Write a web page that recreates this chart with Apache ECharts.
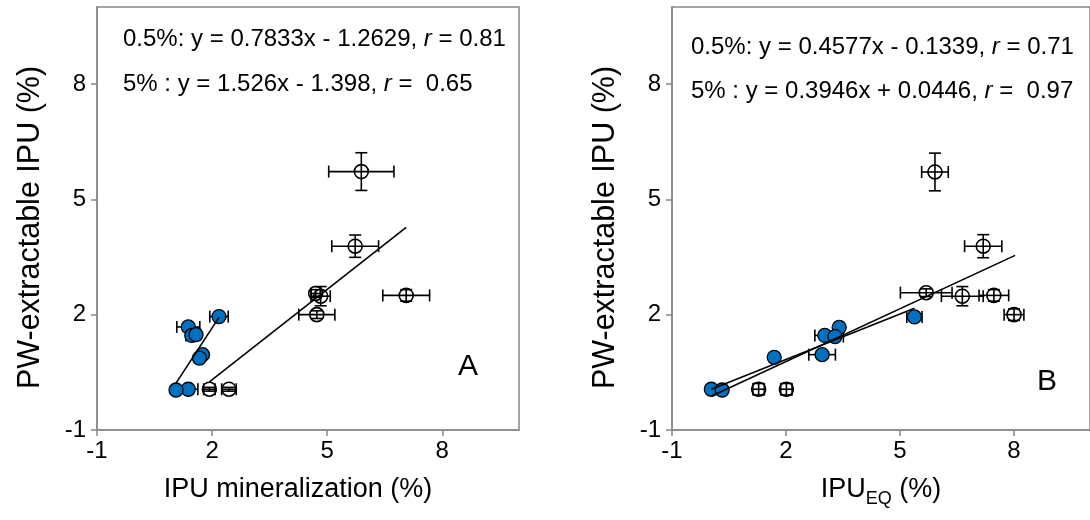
<!DOCTYPE html>
<html>
<head>
<meta charset="utf-8">
<title>PW-extractable IPU</title>
<script src="https://cdn.jsdelivr.net/npm/echarts@6/dist/echarts.min.js"></script>
<style>
  html, body { margin: 0; padding: 0; background: #fff; }
  #chart { width: 1090px; height: 520px; }
</style>
</head>
<body>
<div id="chart"></div>
<script>
// Axis ticks shared by both panels
const tickValues = [-1, 2, 5, 8];

// Panel A: IPU mineralization (%) vs PW-extractable IPU (%)
// 5% treatment (filled blue)
const blueAx    = [2.18, 1.38, 1.47, 1.58, 1.75, 1.67, 1.38, 1.06];
const blueAy    = [1.95, 1.68, 1.46, 1.48, 0.96, 0.87, 0.06, 0.04];
const blueAxErr = [0.24, 0.30, 0.15, 0.12, 0.10, 0.10, 0.25, 0.05];
const blueAyErr = [0.05, 0.05, 0.05, 0.05, 0.05, 0.05, 0.05, 0.05];
// 0.5% treatment (open)
const openAx    = [5.89, 5.73, 7.06, 4.70, 4.83, 4.73, 1.93, 2.44];
const openAy    = [5.72, 3.78, 2.50, 2.55, 2.48, 2.00, 0.06, 0.06];
const openAxErr = [0.85, 0.61, 0.61, 0.12, 0.25, 0.47, 0.15, 0.19];
const openAyErr = [0.49, 0.29, 0.15, 0.10, 0.25, 0.10, 0.05, 0.05];

// Panel B: IPU_EQ (%) vs PW-extractable IPU (%)
const blueBx    = [5.38, 3.40, 3.02, 3.29, 2.95, 1.69, 0.035, 0.32];
const blueBy    = [1.94, 1.67, 1.46, 1.43, 0.96, 0.89, 0.06, 0.04];
const blueBxErr = [0.20, 0.10, 0.26, 0.22, 0.35, 0.05, 0.05, 0.05];
const blueByErr = [0.05, 0.05, 0.05, 0.05, 0.05, 0.05, 0.05, 0.05];
const openBx    = [5.92, 7.19, 5.69, 6.64, 7.47, 8.00, 1.28, 2.01];
const openBy    = [5.71, 3.78, 2.57, 2.48, 2.50, 2.00, 0.06, 0.06];
const openBxErr = [0.35, 0.49, 0.68, 0.55, 0.39, 0.26, 0.15, 0.15];
const openByErr = [0.49, 0.30, 0.10, 0.25, 0.15, 0.15, 0.15, 0.15];

// Fitted lines: [slope, intercept, r, xStart, xEnd]
const fitA05 = [0.7833, -1.2629, 0.81, 1.93, 7.06];
const fitA5  = [1.526, -1.398, 0.65, 1.06, 2.18];
const fitB05 = [0.4577, -0.1339, 0.71, 0.03, 8.03];
const fitB5  = [0.3946, 0.0446, 0.97, 0.035, 5.38];

const FONT = '"Liberation Sans", Arial, sans-serif';
const AXIS_COLOR = '#888888';

function points(xs, ys) { return xs.map((x, i) => [x, ys[i]]); }
function errPoints(xs, ys, ex, ey) { return xs.map((x, i) => [x, ys[i], ex[i], ey[i]]); }
function fitLine(f) { return [[f[3], f[0] * f[3] + f[1]], [f[4], f[0] * f[4] + f[1]]]; }
function eqText(label, f) {
  const sign = f[1] < 0 ? '- ' : '+ ';
  return label + 'y = ' + f[0] + 'x ' + sign + Math.abs(f[1]) + ', ';
}

// Horizontal and vertical error bars with end caps
function errorBars(params, api) {
  const x = api.value(0), y = api.value(1), ex = api.value(2), ey = api.value(3);
  const c = api.coord([x, y]);
  const cap = 6;
  const style = { stroke: '#000', lineWidth: 1.6 };
  const kids = [];
  if (ex > 0) {
    const l = api.coord([x - ex, y]), r = api.coord([x + ex, y]);
    kids.push({ type: 'line', shape: { x1: l[0], y1: c[1], x2: r[0], y2: c[1] }, style });
    kids.push({ type: 'line', shape: { x1: l[0], y1: c[1] - cap, x2: l[0], y2: c[1] + cap }, style });
    kids.push({ type: 'line', shape: { x1: r[0], y1: c[1] - cap, x2: r[0], y2: c[1] + cap }, style });
  }
  if (ey > 0) {
    const t = api.coord([x, y + ey]), b = api.coord([x, y - ey]);
    kids.push({ type: 'line', shape: { x1: c[0], y1: t[1], x2: c[0], y2: b[1] }, style });
    kids.push({ type: 'line', shape: { x1: c[0] - cap, y1: t[1], x2: c[0] + cap, y2: t[1] }, style });
    kids.push({ type: 'line', shape: { x1: c[0] - cap, y1: b[1], x2: c[0] + cap, y2: b[1] }, style });
  }
  return { type: 'group', children: kids };
}

function makeXAxis(idx, name, shift) {
  return {
    type: 'value', gridIndex: idx, min: -1, max: 10, interval: 3,
    name: name, nameLocation: 'middle', nameGap: 46,
    nameTextStyle: { fontFamily: FONT, fontSize: 27, color: '#000', padding: [0, shift, 0, 0],
      rich: {
        a: { fontFamily: FONT, fontSize: 27, color: '#000', lineHeight: 30, verticalAlign: 'top' },
        sub: { fontFamily: FONT, fontSize: 18, color: '#000', lineHeight: 20, padding: [16, 0, 0, 0] }
      } },
    axisLine: { show: true, onZero: false, lineStyle: { color: AXIS_COLOR, width: 1.5 } },
    axisTick: { show: true, inside: false, length: 6, customValues: tickValues, lineStyle: { color: AXIS_COLOR, width: 1.5 } },
    axisLabel: { customValues: tickValues, fontFamily: FONT, fontSize: 24, color: '#000', margin: 9 },
    splitLine: { show: false }
  };
}
function makeYAxis(idx) {
  return {
    type: 'value', gridIndex: idx, min: -1, max: 10, interval: 3,
    name: 'PW-extractable IPU (%)', nameLocation: 'middle', nameGap: 51, nameRotate: 90,
    nameTextStyle: { fontFamily: FONT, fontSize: 30.5, color: '#000', padding: [0, 18, 0, 0] },
    axisLine: { show: true, onZero: false, lineStyle: { color: AXIS_COLOR, width: 1.5 } },
    axisTick: { show: true, inside: false, length: 6, customValues: tickValues, lineStyle: { color: AXIS_COLOR, width: 1.5 } },
    axisLabel: { customValues: tickValues, fontFamily: FONT, fontSize: 24, color: '#000', margin: 11 },
    splitLine: { show: false }
  };
}

function panelSeries(idx, blue, blueErr, open, openErr, fitOpen, fitBlue) {
  const base = { xAxisIndex: idx, yAxisIndex: idx, silent: true, animation: false };
  return [
    Object.assign({ type: 'custom', renderItem: errorBars, data: openErr, z: 1 }, base),
    Object.assign({ type: 'custom', renderItem: errorBars, data: blueErr, z: 1 }, base),
    Object.assign({ type: 'scatter', data: blue, symbol: 'circle', symbolSize: 14, z: 2,
      itemStyle: { color: '#0070C0', borderColor: '#000', borderWidth: 1.3, opacity: 1 } }, base),
    Object.assign({ type: 'scatter', data: open, symbol: 'circle', symbolSize: 14, z: 3,
      itemStyle: { color: 'rgba(255,255,255,0)', borderColor: '#000', borderWidth: 1.6, opacity: 1 } }, base),
    Object.assign({ type: 'line', data: fitLine(fitOpen), showSymbol: false, z: 4,
      lineStyle: { color: '#000', width: 1.6 } }, base),
    Object.assign({ type: 'line', data: fitLine(fitBlue), showSymbol: false, z: 4,
      lineStyle: { color: '#000', width: 1.6 } }, base)
  ];
}

function eqGraphic(left, top, label, f) {
  return {
    type: 'text', left: left, top: top, silent: true,
    style: {
      text: '{n|' + eqText(label, f) + '}{i|r}{n| = ' + (label.indexOf('5% :') === 0 ? ' ' : '') + f[2] + '}',
      rich: {
        n: { fontFamily: FONT, fontSize: 24, fill: '#000' },
        i: { fontFamily: FONT, fontSize: 24, fontStyle: 'italic', fill: '#000' }
      }
    }
  };
}

const chart = echarts.init(document.getElementById('chart'), null, { renderer: 'canvas' });
chart.setOption({
  backgroundColor: '#fff',
  animation: false,
  grid: [
    { left: 97, top: 7, width: 422, height: 423, show: true, borderColor: AXIS_COLOR, borderWidth: 1.5, backgroundColor: 'transparent' },
    { left: 672, top: 7, width: 422, height: 423, show: true, borderColor: AXIS_COLOR, borderWidth: 1.5, backgroundColor: 'transparent' }
  ],
  xAxis: [
    makeXAxis(0, 'IPU mineralization (%)', 20),
    makeXAxis(1, '{a|IPU}{sub|EQ}{a| (%)}', 0)
  ],
  yAxis: [makeYAxis(0), makeYAxis(1)],
  series: [].concat(
    panelSeries(0, points(blueAx, blueAy), errPoints(blueAx, blueAy, blueAxErr, blueAyErr),
      points(openAx, openAy), errPoints(openAx, openAy, openAxErr, openAyErr), fitA05, fitA5),
    panelSeries(1, points(blueBx, blueBy), errPoints(blueBx, blueBy, blueBxErr, blueByErr),
      points(openBx, openBy), errPoints(openBx, openBy, openBxErr, openByErr), fitB05, fitB5)
  ),
  graphic: [
    eqGraphic(123, 27, '0.5%: ', fitA05),
    eqGraphic(123, 72, '5% : ', fitA5),
    eqGraphic(691, 35, '0.5%: ', fitB05),
    eqGraphic(691, 79, '5% : ', fitB5),
    { type: 'text', left: 458, top: 352, silent: true,
      style: { text: 'A', fontFamily: FONT, fontSize: 30, fill: '#000' } },
    { type: 'text', left: 1037, top: 367, silent: true,
      style: { text: 'B', fontFamily: FONT, fontSize: 30, fill: '#000' } }
  ]
});
</script>
</body>
</html>
